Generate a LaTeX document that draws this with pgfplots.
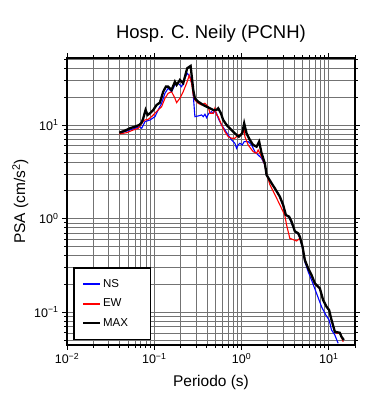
\documentclass[border=0pt]{standalone}
\usepackage{pgfplots}
\pgfplotsset{compat=1.18}
\usepackage{fontspec}
\setmainfont{Liberation Sans}
\begin{document}
\begin{tikzpicture}
\useasboundingbox (-67pt,-55pt) rectangle (323pt,345pt);
\begin{axis}[
  at={(0,0)}, anchor=south west,
  scale only axis, width=288pt, height=287pt,
  xmode=log, ymode=log,
  xmin=0.01, xmax=20, ymin=0.0444, ymax=52,
  xtick={0.01,0.1,1,10},
  xticklabels={10\textsuperscript{−2},10\textsuperscript{−1},10\textsuperscript{0},10\textsuperscript{1}},
  ytick={0.1,1,10},
  yticklabels={10\textsuperscript{−1},10\textsuperscript{0},10\textsuperscript{1}},
  minor xtick={0.02,0.03,0.04,0.05,0.06,0.07,0.08,0.09,0.2,0.3,0.4,0.5,0.6,0.7,0.8,0.9,2,3,4,5,6,7,8,9,20},
  minor ytick={0.05,0.06,0.07,0.08,0.09,0.2,0.3,0.4,0.5,0.6,0.7,0.8,0.9,2,3,4,5,6,7,8,9,20,30,40,50},
  grid=both,
  major grid style={black!55, line width=0.5pt},
  minor grid style={black!55, line width=0.5pt},
  axis line style={line width=1.6pt},
  tick pos=both,
  tick align=outside,
  major tick length=5pt, minor tick length=3pt,
  every tick/.style={black, line width=0.6pt},
  tick label style={font=\fontsize{12.5}{14}\selectfont},
  xticklabel style={anchor=base, yshift=-14pt},
  yticklabel style={anchor=east},
  title={Hosp. C. Neily (PCNH)},
  title style={font=\fontsize{18.5}{22}\selectfont, at={(axis description cs:0.5,1)}, anchor=base, yshift=13pt},
  xlabel={Periodo (s)},
  xlabel style={font=\fontsize{15.5}{18}\selectfont, at={(axis description cs:0.5,-0.1463)}, anchor=base},
  ylabel={PSA (cm/s\textsuperscript{2})},
  ylabel style={font=\fontsize{15.5}{18}\selectfont, at={(axis description cs:-0.1458,0.5)}, anchor=base},
  legend style={draw=black, line width=1.6pt, fill=white, at={(axis description cs:0.021,0.017)}, anchor=south west,
    inner xsep=8pt, inner ysep=10pt, row sep=7pt, font=\fontsize{11.5}{13}\selectfont,
    nodes={inner sep=1.5pt}},
  legend cell align=left,
]
\addplot[blue, line width=1.1pt, legend image post style={blue, line width=1.7pt}] coordinates {
(0.0405,8.15)(0.0527,8.84)(0.0601,9.22)(0.0673,9.59)(0.0718,9.22)(0.0782,10.85)(0.0893,11.31)(0.1019,12.27)
(0.111,14.47)(0.1216,17.06)(0.1327,21.8)(0.1445,24.7)(0.158,22.7)(0.1726,26.8)(0.188,27.9)(0.206,25.7)
(0.2247,31.6)(0.2387,35.7)(0.2565,32.9)(0.2754,25.7)(0.2924,12.27)(0.319,12.48)(0.349,12.79)(0.364,12.27)
(0.381,13.01)(0.398,11.97)(0.423,13.34)(0.4546,13.87)(0.474,13.34)(0.4958,14.11)(0.519,13.34)(0.541,11.79)
(0.5915,10.0)(0.6457,8.84)(0.704,7.82)(0.770,6.91)(0.8395,6.37)(0.879,5.63)(0.916,6.11)(0.959,6.37)
(1.019,6.11)(1.074,6.63)(1.193,6.63)(1.305,6.11)(1.424,5.18)(1.553,4.78)(1.699,4.41)(1.854,3.73)
(1.939,2.92)(2.213,2.38)(2.413,2.10)(2.754,1.71)(3.005,1.36)(3.227,1.09)(3.52,1.025)(3.75,0.895)
(4.09,0.73)(4.46,0.683)(4.667,0.618)(5.01,0.484)(5.32,0.345)(5.81,0.270)(6.35,0.220)(7.25,0.1585)
(8.27,0.114)(9.26,0.0929)(10.1,0.0821)(10.77,0.0642)(11.75,0.0568)(12.82,0.0463)
};
\addlegendentry{\makebox[38pt][l]{NS}}
\addplot[red, line width=1.1pt, legend image post style={red, line width=1.7pt}] coordinates {
(0.0397,8.01)(0.0483,8.27)(0.0575,8.84)(0.0656,9.22)(0.0718,10.42)(0.0782,11.31)(0.0854,11.5)(0.0933,12.27)
(0.1019,13.34)(0.111,14.47)(0.1216,15.7)(0.1327,19.3)(0.1445,21.8)(0.158,22.7)(0.1726,19.3)(0.1805,17.32)
(0.197,19.3)(0.2148,22.7)(0.235,27.9)(0.2518,34)(0.268,27.9)(0.280,20.9)(0.2924,18.5)(0.319,17.06)
(0.349,16.37)(0.381,17.06)(0.4155,15.7)(0.4345,13.34)(0.474,13.34)(0.4958,15.09)(0.519,12.79)(0.541,12.27)
(0.5915,10.0)(0.6457,8.48)(0.704,7.50)(0.770,7.21)(0.8395,7.21)(0.916,7.82)(1.003,7.82)(1.074,8.84)
(1.094,7.50)(1.193,6.11)(1.361,5.18)(1.489,4.98)(1.553,5.40)(1.699,4.58)(1.854,3.73)(1.939,3.0)
(2.115,2.3)(2.413,1.8)(2.754,1.4)(3.14,1.08)(3.29,0.85)(3.58,0.614)(4.28,0.575)(4.667,0.614)
(4.88,0.55)(5.01,0.50)(5.32,0.36)(5.81,0.29)(6.35,0.245)(6.93,0.2)(7.91,0.178)(8.63,0.134)
(9.44,0.114)(10.1,0.105)(10.77,0.082)(11.75,0.062)(12.28,0.0592)(13.4,0.06)(14.0,0.054)(14.62,0.048)
};
\addlegendentry{\makebox[38pt][l]{EW}}
\addplot[black, line width=2.3pt, legend image post style={black, line width=2.6pt}] coordinates {
(0.0397,8.27)(0.0461,8.69)(0.0527,9.22)(0.0601,9.59)(0.0673,10.0)(0.0718,10.58)(0.0748,11.79)(0.0796,14.47)
(0.0839,12.79)(0.0893,13.34)(0.0974,14.47)(0.1065,16.37)(0.116,17.32)(0.1267,22.7)(0.136,25.7)(0.1445,25.7)
(0.158,23.66)(0.1726,29.0)(0.1805,26.8)(0.197,30.3)(0.2148,27.9)(0.2387,40.4)(0.2612,42.8)(0.280,23.66)
(0.2924,19.3)(0.319,17.74)(0.364,16.37)(0.398,15.7)(0.4345,15.09)(0.474,14.47)(0.519,14.47)(0.541,15.09)
(0.581,13.34)(0.617,11.31)(0.675,10.0)(0.736,9.22)(0.804,8.48)(0.879,7.82)(0.933,7.50)(1.019,8.15)
(1.074,10.42)(1.143,8.15)(1.248,6.91)(1.361,6.11)(1.489,5.86)(1.595,6.63)(1.699,4.98)(1.854,3.89)
(1.939,2.92)(2.213,2.38)(2.413,2.10)(2.754,1.71)(3.005,1.395)(3.227,1.09)(3.52,1.045)(3.75,0.925)
(4.09,0.73)(4.46,0.695)(4.667,0.639)(5.01,0.499)(5.32,0.360)(5.81,0.293)(6.35,0.249)(6.93,0.203)
(7.91,0.179)(8.63,0.134)(9.44,0.114)(10.1,0.105)(10.77,0.0821)(11.75,0.0616)(13.4,0.060)(14.0,0.0544)(14.9,0.0502)
};
\addlegendentry{\makebox[38pt][l]{MAX}}
\end{axis}
\end{tikzpicture}
\end{document}
